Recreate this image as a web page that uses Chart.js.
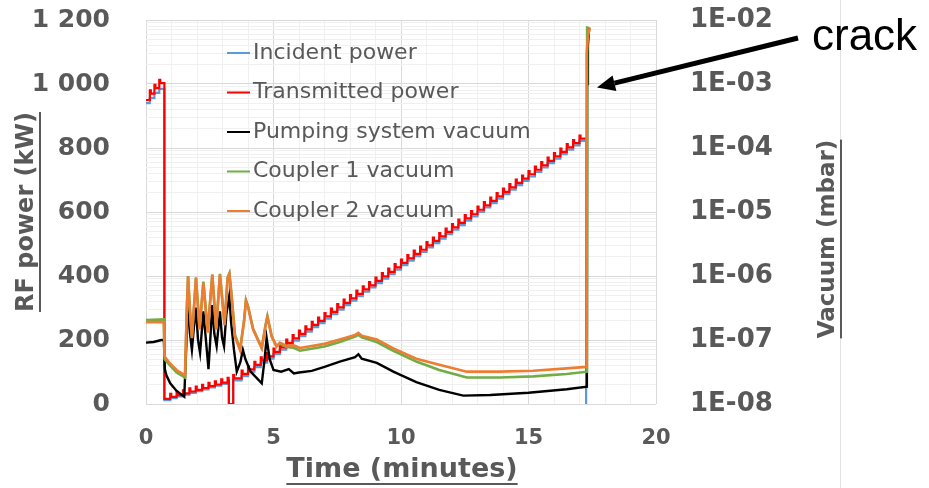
<!DOCTYPE html>
<html>
<head>
<meta charset="utf-8">
<script src="https://cdn.jsdelivr.net/npm/chart.js@4.4.1/dist/chart.umd.min.js"></script>
<style>
  html, body { margin: 0; padding: 0; background: #ffffff; }
  canvas { display: block; }
</style>
</head>
<body>
<canvas id="conditioningChart" width="929" height="488"></canvas>
<script>
// RF power set-point steps (minutes) and power levels (kW)
const stepTimes = [0, 0.15, 0.33, 0.52, 0.72, 0.95, 1.2, 1.45, 1.7, 1.95, 2.2, 2.45, 2.7, 2.95, 3.2, 3.25, 3.42,
  3.75, 4.0, 4.25, 4.5, 4.75, 5.0, 5.25, 5.5, 5.75, 6.0, 6.25, 6.5, 6.75, 7.0, 7.25, 7.5, 7.75, 8.0, 8.25, 8.5, 8.75,
  9.0, 9.25, 9.5, 9.75, 10.0, 10.25, 10.5, 10.75, 11.0, 11.25, 11.5, 11.75, 12.0, 12.25, 12.5, 12.75, 13.0, 13.25,
  13.5, 13.75, 14.0, 14.25, 14.5, 14.75, 15.0, 15.25, 15.5, 15.75, 16.0, 16.25, 16.5, 16.75, 17.0, 17.26];
const incidentKW = [940, 956, 972, 985, 12, 18, 24, 29, 35, 40, 46, 52, 57, 63, 68, 0, 74,
  87, 101, 115, 129, 142, 156, 170, 184, 198, 212, 226, 240, 253, 267, 281, 295, 309, 323, 337, 351, 364,
  378, 392, 406, 420, 434, 448, 462, 475, 489, 503, 517, 531, 545, 559, 573, 586, 600, 614,
  628, 642, 656, 670, 684, 697, 711, 725, 739, 753, 767, 781, 795, 808, 822, 0];
const transmittedKW = [950, 970, 987, 1003, 16, 22, 28, 33, 39, 44, 50, 56, 61, 67, 72, 0, 80,
  94, 108, 122, 136, 149, 163, 177, 191, 205, 219, 233, 247, 260, 274, 288, 302, 316, 330, 344, 358, 371,
  385, 399, 413, 427, 441, 455, 469, 482, 496, 510, 524, 538, 552, 566, 580, 593, 607, 621,
  635, 649, 663, 677, 691, 704, 718, 732, 746, 760, 774, 788, 802, 815, 829, 829];
// overshoot of the transmitted power at every rising step (kW)
const transmittedOvershoot = 10;

// Vacuum readings (mbar)
const pumpT = [0, 0.3, 0.6, 0.7, 0.74, 0.8, 0.95, 1.2, 1.5, 1.56, 1.65, 1.72, 1.8, 1.88, 1.96, 2.04, 2.12, 2.25, 2.35,
  2.45, 2.52, 2.6, 2.68, 2.77, 2.9, 2.98, 3.06, 3.15, 3.27, 3.33, 3.45, 3.56, 3.7, 3.8, 3.9, 4.1, 4.54, 4.65, 4.73,
  4.85, 5.0, 5.3, 5.6, 5.8, 6.0, 6.5, 7.0, 7.6, 8.2, 8.33, 8.46, 9.05, 9.7, 10.6, 11.5, 12.44, 13.5, 15.0, 16.5,
  17.29, 17.3, 17.33, 17.38];
const pumpMbar = [9.1e-8, 9.3e-8, 1.0e-7, 1.0e-7, 3.5e-8, 2.8e-8, 2.1e-8, 1.6e-8, 1.3e-8, 5e-8, 4.5e-7, 1.3e-7, 7e-8,
  1.6e-7, 3.2e-7, 1e-7, 6.3e-8, 2.8e-7, 1e-7, 3.5e-8, 1e-7, 3.5e-7, 1.25e-7, 8e-8, 2.8e-7, 1.1e-7, 8e-8, 2.5e-7,
  5e-7, 2e-7, 7e-8, 3.2e-8, 4.5e-8, 7e-8, 5e-8, 3.2e-8, 2.1e-8, 5e-8, 1.07e-7, 5e-8, 3.4e-8, 3.2e-8, 3.5e-8,
  3e-8, 3.1e-8, 3.3e-8, 3.8e-8, 4.6e-8, 5.4e-8, 6e-8, 5.1e-8, 4.4e-8, 3.2e-8, 2.2e-8, 1.66e-8, 1.35e-8, 1.38e-8,
  1.5e-8, 1.7e-8, 1.86e-8, 1e-3, 4e-3, 7.6e-3];

const coupler1T = [0, 0.7, 0.73, 0.94, 1.2, 1.53, 1.6, 1.65, 1.72, 1.8, 1.96, 2.1, 2.25, 2.42, 2.6, 2.75, 2.9, 3.08,
  3.2, 3.27, 3.35, 3.49, 3.69, 3.85, 3.92, 4.0, 4.2, 4.54, 4.68, 4.76, 4.93, 5.12, 5.25, 5.51, 5.77, 6.04, 7.0, 7.6,
  8.2, 8.33, 8.46, 9.05, 9.7, 10.6, 11.5, 12.58, 13.88, 15.19, 16.5, 17.29, 17.3];
const coupler1Mbar = [2.05e-7, 2.1e-7, 5e-8, 4e-8, 3.1e-8, 2.6e-8, 3e-7, 1.0e-6, 3e-7, 1.1e-7, 9.5e-7, 1.5e-7, 8.2e-7,
  1.35e-7, 1.05e-6, 1.5e-7, 1.08e-6, 1.8e-7, 9.5e-7, 1.1e-6, 5.5e-7, 1.2e-7, 7.2e-8, 2.1e-7, 4.2e-7, 3.4e-7, 1.5e-7,
  7.6e-8, 1.65e-7, 2.35e-7, 1.15e-7, 8e-8, 8.8e-8, 7.8e-8, 7.6e-8, 6.8e-8, 7.9e-8, 9.3e-8, 1.13e-7, 1.2e-7, 1.1e-7,
  9.3e-8, 6.8e-8, 4.6e-8, 3.4e-8, 2.6e-8, 2.6e-8, 2.7e-8, 2.95e-8, 3.2e-8, 8e-3];

const coupler2T = [0, 0.7, 0.73, 0.94, 1.2, 1.53, 1.6, 1.65, 1.72, 1.8, 1.96, 2.1, 2.25, 2.42, 2.6, 2.75, 2.9, 3.08,
  3.2, 3.27, 3.35, 3.49, 3.69, 3.85, 3.92, 4.0, 4.2, 4.54, 4.68, 4.76, 4.93, 5.12, 5.25, 5.51, 5.77, 6.04, 7.0, 7.6,
  8.2, 8.33, 8.46, 9.05, 9.7, 10.6, 11.5, 12.58, 13.88, 15.19, 16.5, 17.27, 17.28, 17.33, 17.4];
const coupler2Mbar = [1.9e-7, 1.9e-7, 5.5e-8, 4.3e-8, 3.4e-8, 2.8e-8, 3e-7, 9.8e-7, 3e-7, 1.07e-7, 9.3e-7, 1.45e-7,
  7.8e-7, 1.3e-7, 1.05e-6, 1.45e-7, 1.05e-6, 1.7e-7, 9e-7, 1.07e-6, 5e-7, 1.12e-7, 6.9e-8, 2e-7, 4.1e-7, 3.3e-7,
  1.45e-7, 7.4e-8, 1.6e-7, 2.3e-7, 1.12e-7, 7.9e-8, 9.1e-8, 8.1e-8, 8.3e-8, 7.5e-8, 8.7e-8, 1.02e-7, 1.2e-7,
  1.29e-7, 1.17e-7, 1.02e-7, 7.4e-8, 5.1e-8, 4.1e-8, 3.2e-8, 3.2e-8, 3.3e-8, 3.6e-8, 3.8e-8, 3e-3, 5.5e-3, 7.6e-3];

const GREY = '#595959';

function powerPoints(levels, overshoot) {
  const pts = [];
  stepTimes.forEach((t, i) => {
    if (overshoot && i > 0 && levels[i] > levels[i - 1]) {
      pts.push({ x: t, y: levels[i] + overshoot });
      pts.push({ x: t + 0.04, y: levels[i] });
    } else {
      pts.push({ x: t, y: levels[i] });
    }
  });
  return pts;
}

function vacuumPoints(times, values) {
  return times.map((t, i) => ({ x: t, y: values[i] }));
}

function isDecade(v) {
  const e = Math.log10(v);
  return Math.abs(e - Math.round(e)) < 1e-9;
}

// keep the plot box fixed: no extra room for half tick labels
function fixVertical(width) {
  return s => {
    s.width = width;
    s.paddingTop = 0;
    s.paddingBottom = 0;
  };
}

// legend, axis titles and the crack annotation
const decorations = {
  id: 'decorations',
  beforeDraw(chart) {
    const c = chart.ctx;
    c.save();
    c.strokeStyle = '#e3e3e3';
    c.lineWidth = 1;
    c.beginPath();
    c.moveTo(840.5, 0);
    c.lineTo(840.5, 488);
    c.stroke();
    c.restore();
  },
  afterDraw(chart) {
    const c = chart.ctx;
    c.save();

    // legend
    c.font = '22px "DejaVu Sans"';
    c.textBaseline = 'middle';
    c.textAlign = 'left';
    chart.data.datasets.forEach((ds, i) => {
      const y = 53 + i * 39.5;
      c.strokeStyle = ds.borderColor;
      c.lineWidth = 2;
      c.beginPath();
      c.moveTo(227, y);
      c.lineTo(250, y);
      c.stroke();
      c.fillStyle = GREY;
      c.fillText(ds.label, 253, y);
    });

    // axis titles, underlined
    c.fillStyle = GREY;
    c.textBaseline = 'alphabetic';
    c.textAlign = 'center';
    const title = (text, font, x, y, angle) => {
      c.save();
      c.translate(x, y);
      c.rotate(angle);
      c.font = font;
      c.fillText(text, 0, 0);
      const w = c.measureText(text).width;
      c.fillRect(-w / 2, 6, w, 2);
      c.restore();
    };
    title('Time (minutes)', 'bold 27px "DejaVu Sans"', 402, 477, 0);
    title('RF power (kW)', 'bold 24px "DejaVu Sans"', 33, 212, -Math.PI / 2);
    title('Vacuum (mbar)', 'bold 23px "DejaVu Sans"', 834, 239, -Math.PI / 2);

    // crack annotation
    c.fillStyle = '#000000';
    c.strokeStyle = '#000000';
    c.font = '44px "Liberation Sans"';
    c.textAlign = 'left';
    c.fillText('crack', 812, 50);
    const tipX = 597, tipY = 87.5, endX = 798, endY = 38;
    const ang = Math.atan2(endY - tipY, endX - tipX);
    const headLen = 18, headHalf = 8;
    const bx = tipX + headLen * Math.cos(ang), by = tipY + headLen * Math.sin(ang);
    c.lineWidth = 5;
    c.beginPath();
    c.moveTo(bx, by);
    c.lineTo(endX, endY);
    c.stroke();
    c.beginPath();
    c.moveTo(tipX, tipY);
    c.lineTo(bx - headHalf * Math.sin(ang), by + headHalf * Math.cos(ang));
    c.lineTo(bx + headHalf * Math.sin(ang), by - headHalf * Math.cos(ang));
    c.closePath();
    c.fill();

    c.restore();
  }
};

const ctx = document.getElementById('conditioningChart').getContext('2d');
new Chart(ctx, {
  type: 'line',
  data: {
    datasets: [
      { label: 'Incident power', data: powerPoints(incidentKW, 0), yAxisID: 'y',
        borderColor: '#5B9BD5', borderWidth: 2.2, stepped: 'before', order: 5 },
      { label: 'Transmitted power', data: powerPoints(transmittedKW, transmittedOvershoot), yAxisID: 'y',
        borderColor: '#FF0000', borderWidth: 2.2, stepped: 'before', order: 4 },
      { label: 'Pumping system vacuum', data: vacuumPoints(pumpT, pumpMbar), yAxisID: 'y1',
        borderColor: '#000000', borderWidth: 2.4, order: 3 },
      { label: 'Coupler 1 vacuum', data: vacuumPoints(coupler1T, coupler1Mbar), yAxisID: 'y1',
        borderColor: '#70AD47', borderWidth: 2.6, order: 2 },
      { label: 'Coupler 2 vacuum', data: vacuumPoints(coupler2T, coupler2Mbar), yAxisID: 'y1',
        borderColor: '#ED7D31', borderWidth: 2.6, order: 1 }
    ]
  },
  options: {
    responsive: false,
    animation: false,
    layout: { padding: { top: 20, left: 0, right: 0, bottom: 0 } },
    elements: { point: { radius: 0 }, line: { tension: 0, fill: false } },
    plugins: { legend: { display: false }, tooltip: { enabled: false } },
    scales: {
      x: {
        type: 'linear', min: 0, max: 20,
        afterFit: s => { s.height = 84; s.paddingLeft = 0; s.paddingRight = 0; },
        border: { display: false },
        grid: {
          drawTicks: false,
          color: c => (c.tick && c.tick.value % 5 === 0 ? '#d9d9d9' : '#f0f0f0')
        },
        ticks: {
          stepSize: 1, autoSkip: false, maxRotation: 0, padding: 22, color: GREY,
          font: { family: 'DejaVu Sans', size: 21, weight: 'bold' },
          callback: v => (v % 5 === 0 ? String(v) : '')
        }
      },
      y: {
        position: 'left', min: 0, max: 1200,
        afterFit: fixVertical(146),
        border: { display: false },
        grid: { display: false, drawTicks: false },
        ticks: {
          stepSize: 200, padding: 36, color: GREY,
          font: { family: 'DejaVu Sans', size: 25, weight: 'bold' },
          callback: v => (v >= 1000 ? Math.floor(v / 1000) + ' ' + String(v % 1000).padStart(3, '0') : String(v))
        }
      },
      y1: {
        type: 'logarithmic', position: 'right', min: 1e-8, max: 1e-2,
        afterFit: fixVertical(273),
        afterBuildTicks: s => {
          const ticks = [];
          for (let e = -8; e < -2; e++) {
            for (let k = 1; k < 10; k++) ticks.push({ value: Number((k * Math.pow(10, e)).toPrecision(3)) });
          }
          ticks.push({ value: 1e-2 });
          s.ticks = ticks;
        },
        border: { display: false },
        grid: {
          drawTicks: false,
          color: c => (c.tick && isDecade(c.tick.value) ? '#d9d9d9' : '#f0f0f0')
        },
        ticks: {
          autoSkip: false, padding: 34, color: GREY,
          font: { family: 'DejaVu Sans', size: 26, weight: 'bold' },
          callback: v => (isDecade(v) ? '1E-0' + (-Math.round(Math.log10(v))) : '')
        }
      }
    }
  },
  plugins: [decorations]
});
</script>
</body>
</html>
